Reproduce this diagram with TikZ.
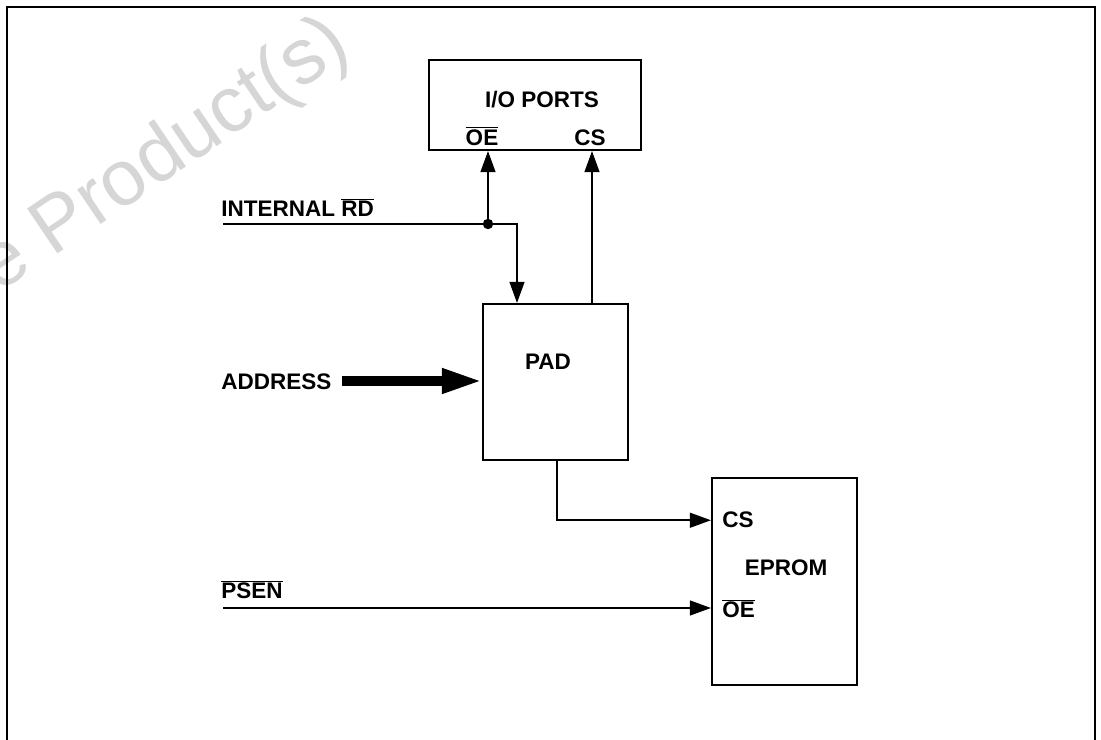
\documentclass[tikz,border=0pt]{standalone}
\usepackage{fontspec}
\setmainfont{Liberation Sans}
\usepackage{tikz}
\usetikzlibrary{arrows.meta}
\definecolor{watermark}{RGB}{214,214,214}
\newcommand{\ovl}[1]{$\overline{\mbox{#1}}$}

\tikzset{
  blockbox/.style = {
    draw        = black,
    line width  = 1.4pt,
    inner sep   = 0pt
  },
  pinlabel/.style = {
    font        = \fontsize{16}{19}\selectfont\bfseries,
    inner sep   = 0pt
  },
  signal/.style = {
    line width  = 1.4pt,
    -{Triangle[length=15pt, width=10.5pt]}
  }
}

\begin{document}
\begin{tikzpicture}[x=0.025cm, y=-0.025cm]
  \useasboundingbox (0,0) rectangle (1101,740);
  \clip (0,0) rectangle (1101,740);

  % watermark and frame
  \node[
    font        = \fontsize{56}{62}\selectfont,
    text        = watermark,
    rotate      = 34,
    anchor      = base east,
    inner sep   = 0pt
  ] (stamp) at (354,54) {Obsolete Product(s)};
  \draw[line width=1.1pt] (7,7) rectangle (1095,760);

  % blocks
  \node[blockbox, minimum width=5.3cm,   minimum height=2.25cm]  (io)    at (535,105)   {};
  \node[blockbox, minimum width=3.625cm, minimum height=3.9cm]   (pad)   at (555.5,382) {};
  \node[blockbox, minimum width=3.625cm, minimum height=5.175cm] (eprom) at (784.5,581.5) {};

  \node[pinlabel] (iotitle) at (542,100) {I/O PORTS};
  \node[pinlabel] (iooe)    at (482,136) {\ovl{OE}};
  \node[pinlabel] (iocs)    at (590,138) {CS};
  \node[pinlabel] (padname) at (548,362) {PAD};
  \node[pinlabel] (epname)  at (786,568) {EPROM};
  \node[pinlabel, anchor=base west] (epcs) at (722,528) {CS};
  \node[pinlabel, anchor=base west] (epoe) at (722,618) {\ovl{OE}};

  % signal names
  \node[pinlabel, anchor=base west] (rdname)   at (221,217) {INTERNAL \ovl{RD}};
  \node[pinlabel, anchor=base west] (addrname) at (221,390) {ADDRESS};
  \node[pinlabel, anchor=base west] (psenname) at (221,599) {\ovl{PSEN}};

  \coordinate (rdin)   at (223,224);
  \coordinate (rdjoin) at (488,224);
  \coordinate (rdturn) at (517,224);
  \coordinate (addrin) at (342,381);
  \coordinate (csout)  at (592,0);
  \coordinate (padout) at (557,0);
  \coordinate (psenin) at (223,608);

  % connectors
  \draw[signal] (rdin) -- (rdturn) -- (rdturn |- pad.north);
  \draw[signal] (rdjoin) -- (rdjoin |- io.south);
  \fill (rdjoin) circle[radius=0.13cm];
  \draw[signal] (csout |- pad.north) -- (csout |- io.south);
  \draw[line width=6.5pt, -{Triangle[length=1cm, width=0.58cm]}]
    (addrin) -- (addrin -| pad.west);
  \draw[signal] (padout |- pad.south) |- (epcs.west -| eprom.west);
  \draw[signal] (psenin) -- (psenin -| eprom.west);
\end{tikzpicture}
\end{document}
